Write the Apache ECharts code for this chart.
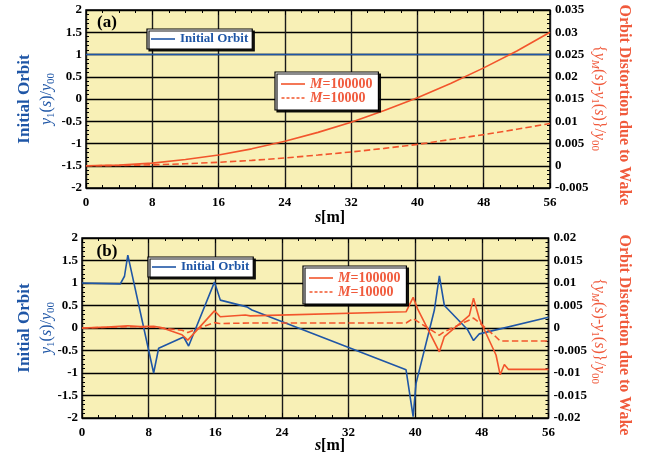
<!DOCTYPE html>
<html><head><meta charset="utf-8">
<script src="https://cdn.jsdelivr.net/npm/echarts@6/dist/echarts.min.js"></script>
<style>html,body{margin:0;padding:0;background:#fff}#c{width:647px;height:455px}</style>
</head><body><div id="c"></div>
<script>
// ---------- Panel (a) data ----------
const aS        = [0, 4, 8, 12, 16, 20, 24, 28, 32, 36, 40, 44, 48, 52, 56];
const aOrbit    = [1, 1, 1, 1, 1, 1, 1, 1, 1, 1, 1, 1, 1, 1, 1];
const aM100000  = [0, 0.00015, 0.0006, 0.0014, 0.0024, 0.0038, 0.0055, 0.0075, 0.0098, 0.0124, 0.0153, 0.0185, 0.022, 0.0258, 0.030];
const aM10000   = [0, 0.00005, 0.0002, 0.00044, 0.00078, 0.0012, 0.00175, 0.0024, 0.0031, 0.0039, 0.0048, 0.0059, 0.007, 0.0082, 0.0095];

// ---------- Panel (b) data ----------
const bSOrbit = [0, 4.6, 5.1, 5.5, 8.6, 9.2, 12.2, 12.8, 15.9, 16.6, 19.8, 20.4, 38.9, 39.75, 40.1, 42.3, 42.9, 43.5, 46.3, 47.0, 47.7, 56];
const bOrbit  = [1.0, 0.98, 1.15, 1.62, -1.0, -0.45, -0.2, -0.4, 1.02, 0.62, 0.47, 0.40, -0.93, -1.97, -1.23, 0.4, 1.16, 0.5, -0.04, -0.28, -0.13, 0.24];

const bSM100000 = [0, 3, 5.5, 7, 8.6, 9.5, 12.0, 12.7, 15.9, 16.6, 19.6, 20.2, 38.9, 39.75, 40.3, 42.9, 43.5, 46.5, 47.0, 47.7, 49.7, 50.2, 50.7, 51.2, 56];
const bM100000  = [0, 0.0002, 0.0005, 0.0003, 0.0004, 0.0001, -0.0015, -0.0027, 0.0038, 0.0025, 0.0029, 0.0027, 0.0036, 0.0068, 0.0042, -0.0053, -0.0019, 0.0028, 0.0066, 0.0020, -0.0060, -0.0104, -0.0081, -0.0092, -0.0092];

const bSM10000 = [0, 5.5, 8.6, 12.0, 12.7, 15.9, 16.5, 20, 38.9, 39.75, 40.5, 42.9, 43.5, 47.0, 47.7, 49.7, 50.2, 56];
const bM10000  = [0, 0.0003, 0.0002, -0.0005, -0.001, 0.0012, 0.0010, 0.0011, 0.0011, 0.0021, 0.0012, -0.0016, -0.0008, 0.0022, 0.0012, -0.0020, -0.0029, -0.0029];

// ---------- Axes ----------
const xMin = 0, xMax = 56, xStep = 8;
const leftMin = -2, leftMax = 2, leftStep = 0.5;
const aRightMin = -0.005, aRightMax = 0.035, aRightStep = 0.005;
const bRightMin = -0.02, bRightMax = 0.02, bRightStep = 0.005;

const BLUE = '#1f56a6', RED = '#f2552c', TRED = '#f05a3c', BG = '#f8f0b6';
const FF = '"Liberation Serif", "Times New Roman", serif';
const zip = (xs, ys) => xs.map((x, i) => [x, ys[i]]);
const fmt = v => String(parseFloat(v.toFixed(4)));

const chart = echarts.init(document.getElementById('c'), null, {renderer: 'canvas'});

function xAxes(gi) {
  const common = {type: 'value', gridIndex: gi, min: xMin, max: xMax, interval: xStep,
    axisLine: {show: false, onZero: false}, axisTick: {show: true, inside: true, length: 5, lineStyle: {color: '#000'}},
    minorTick: {show: true, splitNumber: 4, length: 3, lineStyle: {color: '#000'}}};
  return [
    Object.assign({}, common, {position: 'bottom',
      axisLabel: {show: true, fontFamily: FF, fontWeight: 'bold', fontSize: 13, color: '#000', margin: 8},
      splitLine: {show: true, lineStyle: {color: '#1a1a1a', width: 1.4}}}),
    Object.assign({}, common, {position: 'top', axisLabel: {show: false}, splitLine: {show: false}})
  ];
}
function yAxes(gi, rmin, rmax, rstep) {
  return [
    {type: 'value', gridIndex: gi, position: 'left', min: leftMin, max: leftMax, interval: leftStep,
      axisLine: {show: false, onZero: false},
      axisTick: {show: true, inside: true, length: 5, lineStyle: {color: '#000'}},
      minorTick: {show: true, splitNumber: 5, length: 3, lineStyle: {color: '#000'}},
      axisLabel: {fontFamily: FF, fontWeight: 'bold', fontSize: 13, color: '#000', margin: 4},
      splitLine: {show: true, lineStyle: {color: '#000', width: 1.4}}},
    {type: 'value', gridIndex: gi, position: 'right', min: rmin, max: rmax, interval: rstep,
      axisLine: {show: false, onZero: false},
      axisTick: {show: true, inside: true, length: 5, lineStyle: {color: '#000'}},
      minorTick: {show: true, splitNumber: 5, length: 3, lineStyle: {color: '#000'}},
      axisLabel: {fontFamily: FF, fontWeight: 'bold', fontSize: 13, color: '#000', margin: 5, formatter: fmt},
      splitLine: {show: false}}
  ];
}

const SOLID_ICON = 'path://M0,0h24v1.6h-24z';
const DASH_ICON = 'path://M0,0h3v1.6h-3zM5,0h3v1.6h-3zM10,0h3v1.6h-3zM15,0h3v1.6h-3zM20,0h3v1.6h-3z';

const legendBase = {
  backgroundColor: '#fff', borderColor: '#000', borderWidth: 1.2, borderRadius: 0,
  shadowColor: 'rgba(0,0,0,0.9)', shadowBlur: 0, shadowOffsetX: 2, shadowOffsetY: 2,
  itemWidth: 24, itemHeight: 1.6, itemGap: 0, orient: 'vertical', selectedMode: false
};
const blueLegendText = {fontFamily: FF, fontWeight: 'bold', fontSize: 13, color: BLUE, lineHeight: 14};
const redLegendText = {fontFamily: FF, fontWeight: 'bold', fontSize: 14, color: TRED, lineHeight: 13,
  rich: {i: {fontFamily: FF, fontWeight: 'bold', fontStyle: 'italic', fontSize: 14, color: TRED, lineHeight: 13}}};
const redFormatter = n => n.startsWith('M=') ? '{i|M}' + n.slice(1) : n;
const blueLegendData = [{name: 'Initial Orbit', icon: SOLID_ICON}];
const redLegendData = [{name: 'M=100000', icon: SOLID_ICON}, {name: 'M=10000', icon: DASH_ICON}];

const lineSeries = (name, xi, yi, data, color, type) => ({
  name, type: 'line', xAxisIndex: xi, yAxisIndex: yi, data, showSymbol: false, symbol: 'none',
  lineStyle: {color, width: 1.6, type: type || 'solid'}, itemStyle: {color}, animation: false, z: 3
});

const subRich = (color) => ({
  i: {fontFamily: FF, fontStyle: 'italic', fontSize: 16, fill: color, lineHeight: 20},
  n: {fontFamily: FF, fontSize: 16, fill: color, lineHeight: 20},
  s: {fontFamily: FF, fontSize: 11, fill: color, lineHeight: 12, verticalAlign: 'bottom'},
  si: {fontFamily: FF, fontStyle: 'italic', fontSize: 11, fill: color, lineHeight: 12, verticalAlign: 'bottom'}
});

function titles(cyL, cyR, cyR2, panelLabel, labelY, sY) {
  return [
    {type: 'text', x: 25, y: cyL, rotation: Math.PI / 2, z: 10,
      style: {text: 'Initial Orbit', font: 'bold 17px ' + FF, fill: BLUE, align: 'center', verticalAlign: 'middle'}},
    {type: 'text', x: 47, y: cyL, rotation: Math.PI / 2, z: 10,
      style: {text: '{i|y}{s|1}{n|(}{i|s}{n|)/}{i|y}{s|00}', rich: subRich(BLUE), align: 'center', verticalAlign: 'middle'}},
    {type: 'text', x: 624, y: cyR, rotation: -Math.PI / 2, z: 10,
      style: {text: 'Orbit Distortion due to Wake', font: 'bold 16px ' + FF, fill: TRED, align: 'center', verticalAlign: 'middle'}},
    {type: 'text', x: 599, y: cyR2, rotation: -Math.PI / 2, z: 10,
      style: {text: '{n|{}{i|y}{si|M}{n|(}{i|s}{n|)-}{i|y}{s|1}{n|(}{i|s}{n|)}}/{i|y}{s|00}', font: '16px ' + FF, fill: TRED,
        rich: subRich(TRED), align: 'center', verticalAlign: 'middle'}},
    {type: 'text', x: 107, y: labelY, z: 10,
      style: {text: panelLabel, font: 'bold 17px ' + FF, fill: '#000', align: 'center', verticalAlign: 'middle'}},
    {type: 'text', x: 330, y: sY, z: 10,
      style: {text: '{i|s}{n|[m]}', align: 'center', verticalAlign: 'middle',
        rich: {i: {fontFamily: FF, fontStyle: 'italic', fontWeight: 'bold', fontSize: 16, fill: '#000'},
               n: {fontFamily: FF, fontWeight: 'bold', fontSize: 16, fill: '#000'}}}}
  ];
}

const option = {
  animation: false,
  textStyle: {fontFamily: FF},
  grid: [
    {left: 86, right: 97, top: 10, height: 178, show: true, backgroundColor: BG, borderColor: '#000', borderWidth: 1.5, containLabel: false},
    {left: 82, right: 98.5, top: 238, height: 180, show: true, backgroundColor: BG, borderColor: '#000', borderWidth: 1.5, containLabel: false}
  ],
  xAxis: [...xAxes(0), ...xAxes(1)],
  yAxis: [...yAxes(0, aRightMin, aRightMax, aRightStep), ...yAxes(1, bRightMin, bRightMax, bRightStep)],
  legend: [
    Object.assign({}, legendBase, {left: 147, top: 29, padding: [3, 4], data: blueLegendData, textStyle: blueLegendText}),
    Object.assign({}, legendBase, {left: 275, top: 72, padding: [5, 6], data: redLegendData, textStyle: redLegendText, formatter: redFormatter}),
    Object.assign({}, legendBase, {left: 148, top: 257, padding: [3, 4], data: blueLegendData, textStyle: blueLegendText}),
    Object.assign({}, legendBase, {left: 303, top: 266, padding: [5, 6], data: redLegendData, textStyle: redLegendText, formatter: redFormatter})
  ],
  series: [
    lineSeries('Initial Orbit', 0, 0, zip(aS, aOrbit), BLUE),
    lineSeries('M=100000', 0, 1, zip(aS, aM100000), RED),
    lineSeries('M=10000', 0, 1, zip(aS, aM10000), RED, 'dashed'),
    lineSeries('Initial Orbit', 2, 2, zip(bSOrbit, bOrbit), BLUE),
    lineSeries('M=100000', 2, 3, zip(bSM100000, bM100000), RED),
    lineSeries('M=10000', 2, 3, zip(bSM10000, bM10000), RED, 'dashed')
  ],
  graphic: [...titles(99, 105, 98, '(a)', 23, 218), ...titles(328, 335, 331, '(b)', 252, 446)]
};
chart.setOption(option);
</script>
</body></html>
